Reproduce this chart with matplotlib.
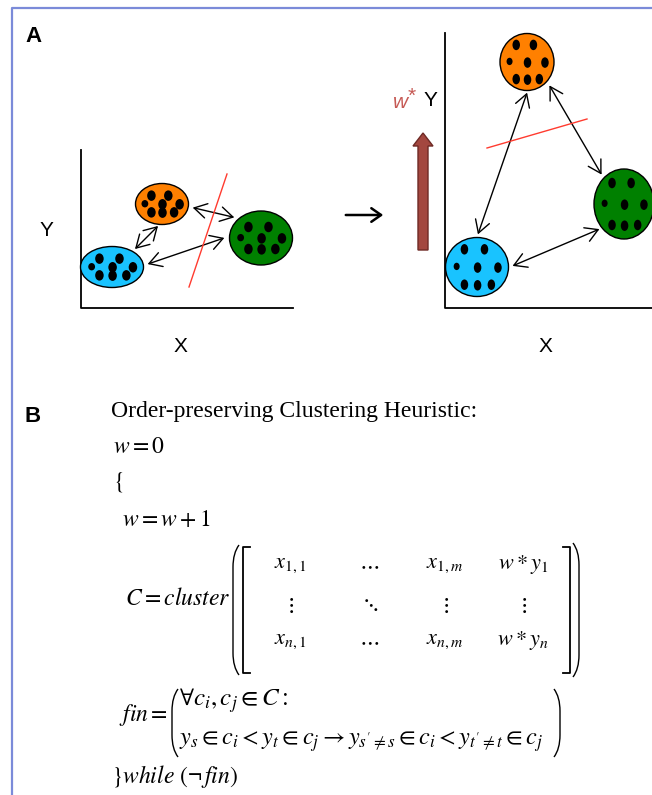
# Schematic of the order-preserving clustering heuristic (panels A and B)

import matplotlib
matplotlib.use('Agg')
from matplotlib import pyplot as plt
from matplotlib.patches import Ellipse, FancyArrowPatch, FancyArrow, PathPatch
from matplotlib.path import Path

plt.rcParams['mathtext.fontset'] = 'stix'

# Clusters: cyan, orange, green
cluster_colors = ['#19c3ff', '#ff8000', '#008000']
left_cx = [112, 162, 261]
left_cy = [267, 204, 238]
left_w = [63, 53, 63]
left_h = [41, 41, 54]
right_cx = [477, 527, 624]
right_cy = [267, 62, 204]
right_w = [63, 54, 60]
right_h = [59, 57, 70]

# Points inside each cluster (fraction of the half width / half height)
dot_dx = [-0.42, 0.25, -0.68, 0.02, 0.70, -0.42, 0.02, 0.48]
dot_dy = [-0.60, -0.60, -0.02, 0.02, 0.02, 0.60, 0.62, 0.60]

# Double arrows between clusters: (start, end)
left_links = [((190, 207), (237, 218)), ((145, 265), (227, 237)), ((160, 224), (133, 251))]
right_links = [((528, 90), (477, 237)), ((548, 83), (603, 177)), ((510, 267), (602, 228))]

# Red separating lines
left_cut = [(189, 287), (227, 174)]
right_cut = [(487, 148), (587, 119)]

fig = plt.figure(figsize=(6.52, 7.95), dpi=100)
ax = fig.add_axes([0, 0, 1, 1])
ax.set_xlim(0, 652)
ax.set_ylim(795, 0)
ax.axis('off')

# panel frame
ax.plot([12, 12, 660], [800, 8, 8], color='#7b8bd9', lw=1.6, solid_capstyle='butt')

sans = 'Liberation Sans'
ax.text(25, 37, 'A', fontsize=16, fontweight='bold', family=sans, va='center')
ax.text(25, 416, 'B', fontsize=16, fontweight='bold', family=sans, va='center')


def draw_clusters(cx, cy, w, h, spread_y, dot_w, dot_h):
    for i in range(len(cx)):
        ax.add_patch(Ellipse((cx[i], cy[i]), w[i], h[i], facecolor=cluster_colors[i],
                             edgecolor='black', lw=1.0, zorder=3))
        for j in range(len(dot_dx)):
            dw = dot_w * (0.8 if j == 2 else 1.0)
            dh = dot_h * (0.7 if j == 2 else 1.0)
            ax.add_patch(Ellipse((cx[i] + dot_dx[j] * w[i] / 2 * 0.95,
                                  cy[i] + dot_dy[j] * h[i] / 2 * spread_y),
                                 dw, dh, facecolor='black', edgecolor='none', zorder=4))


def draw_links(links):
    for a, b in links:
        ax.add_patch(FancyArrowPatch(a, b, arrowstyle='<->,head_length=0.6,head_width=0.35',
                                     mutation_scale=15, color='black', lw=1.0, zorder=5))


# left panel
ax.plot([81, 81, 293], [150, 308, 308], color='black', lw=1.3)
draw_clusters(left_cx, left_cy, left_w, left_h, 0.68, 8.5, 10.5)
draw_links(left_links)
ax.plot(*zip(*left_cut), color='#ff3b2f', lw=1.0, zorder=6)
ax.text(46, 231, 'Y', fontsize=15, family=sans, ha='center', va='center')
ax.text(180, 347, 'X', fontsize=15, family=sans, ha='center', va='center')

# transition arrows
ax.add_patch(FancyArrowPatch((343, 215), (386, 215), arrowstyle='->,head_length=0.5,head_width=0.35',
                             mutation_scale=14, color='black', lw=1.8))
ax.add_patch(FancyArrow(423, 250, 0, -117, width=10, head_width=20, head_length=13,
                        length_includes_head=True, facecolor='#a3473f', edgecolor='#6e2a25', lw=1.0))

# right panel
ax.plot([445, 445, 660], [33, 308, 308], color='black', lw=1.3)
draw_clusters(right_cx, right_cy, right_w, right_h, 1.0, 7.5, 10.5)
draw_links(right_links)
ax.plot(*zip(*right_cut), color='#ff3b2f', lw=1.0, zorder=6)
ax.text(408, 102, 'w', fontsize=15, style='italic', family=sans, color='#c65a55', ha='right', va='center')
ax.text(408, 96, '*', fontsize=15, family=sans, color='#c65a55', ha='left', va='center')
ax.text(430, 100, 'Y', fontsize=15, family=sans, ha='center', va='center')
ax.text(545, 347, 'X', fontsize=15, family=sans, ha='center', va='center')

# panel B: the heuristic
serif = 'Liberation Serif'
ax.text(111, 411, 'Order-preserving Clustering Heuristic:', fontsize=17, family=serif, va='center')
ax.text(113, 446, r'$w=0$', fontsize=17, va='center')
ax.text(113, 482, r'$\{$', fontsize=17, va='center')
ax.text(122, 519, r'$w=w+1$', fontsize=17, va='center')
ax.text(231, 598, r'$C=\mathit{cluster}$', fontsize=17, ha='right', va='center')


def paren(x, y0, y1, side):
    d = 6 * side
    verts = [(x + d, y0), (x, y0 + 8), (x, y0 + 22), (x, y1 - 22), (x, y1 - 8), (x + d, y1)]
    codes = [Path.MOVETO, Path.CURVE3, Path.CURVE3, Path.LINETO, Path.CURVE3, Path.CURVE3]
    ax.add_patch(PathPatch(Path(verts, codes), facecolor='none', edgecolor='black', lw=1.0))


def bracket(x, y0, y1, side):
    ax.plot([x + 7 * side, x, x, x + 7 * side], [y0, y0, y1, y1], color='black', lw=1.3)


paren(233, 545, 675, 1)
bracket(243, 547, 673, 1)
bracket(570, 547, 673, -1)
paren(579, 543, 677, -1)

mat_x = [290, 369, 445, 523]
mat_y = [565, 605, 641]
mat_cells = [[r'$x_{1,1}$', r'$\cdots$', r'$x_{1,m}$', r'$w*y_1$'],
             [r'$\vdots$', r'$\ddots$', r'$\vdots$', r'$\vdots$'],
             [r'$x_{n,1}$', r'$\cdots$', r'$x_{n,m}$', r'$w*y_n$']]
for r in range(3):
    for c in range(4):
        ax.text(mat_x[c], mat_y[r], mat_cells[r][c], fontsize=16, ha='center', va='center')

ax.text(168, 715, r'$\mathit{fin}=$', fontsize=17, ha='right', va='center')
paren(172, 689, 757, 1)
paren(560, 689, 757, -1)
ax.text(179, 701, r'$\forall c_i, c_j \in C:$', fontsize=18, va='center')
ax.text(179, 742, r'$y_s \in c_i < y_t \in c_j \rightarrow y_{s^{\prime}\neq s} \in c_i < y_{t^{\prime}\neq t} \in c_j$',
        fontsize=17.5, va='center')
ax.text(111, 776, r'$\}\mathit{while}\ (\neg\,\mathit{fin})$', fontsize=17, va='center')

fig.savefig('out.png', dpi=100)
